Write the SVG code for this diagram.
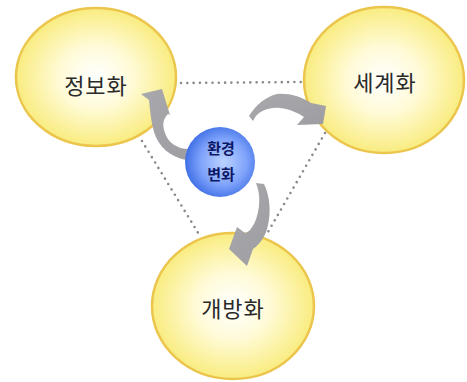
<svg xmlns="http://www.w3.org/2000/svg" width="467" height="382" viewBox="0 0 467 382">
<defs>
<radialGradient id="gy" cx="50%" cy="50%" r="50%">
<stop offset="0" stop-color="#ffffff"/>
<stop offset="0.45" stop-color="#fffbd8"/>
<stop offset="1" stop-color="#f9ec80"/>
</radialGradient>
<radialGradient id="gb" cx="55%" cy="50%" r="55%">
<stop offset="0" stop-color="#bcd2ff"/>
<stop offset="0.6" stop-color="#7fa3fb"/>
<stop offset="1" stop-color="#3f6fe6"/>
</radialGradient>
<linearGradient id="ga" x1="0" y1="0" x2="1" y2="1">
<stop offset="0" stop-color="#a9a9ad"/>
<stop offset="1" stop-color="#9d9da2"/>
</linearGradient>
</defs>
<style>
.yc{fill:url(#gy);stroke:#ebc54c;stroke-width:2.5}
.yt{font-family:"Noto Sans CJK KR","Noto Sans",sans-serif;font-size:22px;fill:#2a2a2a;text-anchor:middle;letter-spacing:1px}
.bt{font-family:"Noto Sans CJK KR","Noto Sans",sans-serif;font-size:15px;font-weight:bold;fill:#0c1765;text-anchor:middle}
.dot{stroke:#8a8a8a;stroke-width:2.6;stroke-linecap:round;stroke-dasharray:0 6.3;fill:none}
.arr{fill:url(#ga)}
</style>
<rect width="467" height="382" fill="#ffffff"/>
<g id="node-jeongbohwa">
<ellipse class="yc" cx="96" cy="77" rx="80" ry="69"/>
<text class="yt" x="96" y="94">정보화</text>
</g>
<g id="node-segyehwa">
<ellipse class="yc" cx="384" cy="80" rx="80" ry="73"/>
<text class="yt" x="385" y="91">세계화</text>
</g>
<g id="node-gaebanghwa">
<ellipse class="yc" cx="233" cy="306" rx="81" ry="73"/>
<text class="yt" x="233" y="317">개방화</text>
</g>
<g id="connectors">
<line class="dot" x1="181" y1="83" x2="301" y2="82"/>
<line class="dot" x1="142" y1="141" x2="200" y2="236"/>
<line class="dot" x1="325" y1="133" x2="268" y2="232"/>
<path class="arr" d="M188,149 C178,149 168,143 165,133 C162,125 163,119 168,114 L170,115 L162,89 L141,94 L149,100 C150,110 151,122 154,132 C158,146 170,157 186,160 Z"/>
<path class="arr" d="M253,121 C257,112 267,107 280,108 C290,109 298,113 304,117 L297,125 L323,124 L326,106 L311,103 C300,96 288,93 277,94 C265,97 256,105 249,116 Z"/>
<path class="arr" d="M256,183 C261,195 260,210 255,222 C252,228 249,232 245,233 L237,227 L229,249 L247,266 L253,249 C261,243 266,235 268,225 C271,212 270,196 264,184 Z"/>
</g>
<g id="node-hwangyeong">
<circle cx="220" cy="162" r="35" fill="url(#gb)"/>
<text class="bt" x="221" y="154">환경</text>
<text class="bt" x="221" y="180">변화</text>
</g>
</svg>
